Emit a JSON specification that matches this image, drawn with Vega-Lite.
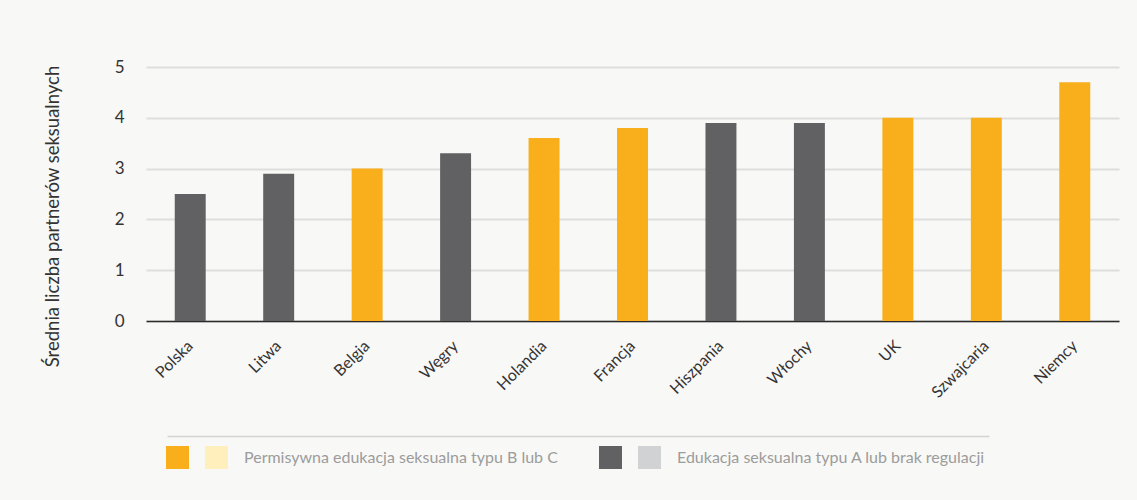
{
  "$schema": "https://vega.github.io/schema/vega-lite/v6.json",
  "width": 973,
  "height": 254,
  "autosize": {"type": "none"},
  "padding": {"left": 146, "top": 67, "right": 18, "bottom": 179},
  "background": "#f8f8f6",
  "config": {
    "font": "Lato",
    "view": {"stroke": null},
    "axis": {"labelFont": "Lato", "titleFont": "Lato"},
    "legend": {
      "title": null,
      "orient": "none",
      "legendY": 379,
      "direction": "horizontal",
      "symbolType": "square",
      "symbolSize": 529,
      "symbolStrokeWidth": 0,
      "labelOffset": 16,
      "columnPadding": -7,
      "labelFontSize": 16,
      "labelColor": "#9c9c9c",
      "labelLimit": 500
    }
  },
  "data": {
    "values": [
      {"kraj": "Polska", "srednia": 2.5, "typ": "A"},
      {"kraj": "Litwa", "srednia": 2.9, "typ": "A"},
      {"kraj": "Belgia", "srednia": 3.0, "typ": "B"},
      {"kraj": "Węgry", "srednia": 3.3, "typ": "A"},
      {"kraj": "Holandia", "srednia": 3.6, "typ": "B"},
      {"kraj": "Francja", "srednia": 3.8, "typ": "B"},
      {"kraj": "Hiszpania", "srednia": 3.9, "typ": "A"},
      {"kraj": "Włochy", "srednia": 3.9, "typ": "A"},
      {"kraj": "UK", "srednia": 4.0, "typ": "B"},
      {"kraj": "Szwajcaria", "srednia": 4.0, "typ": "B"},
      {"kraj": "Niemcy", "srednia": 4.7, "typ": "B"}
    ]
  },
  "encoding": {
    "y": {
      "field": "srednia",
      "type": "quantitative",
      "scale": {"domain": [0, 5]},
      "axis": {
        "title": "Średnia liczba partnerów seksualnych",
        "titleFontSize": 18.5,
        "titleFontWeight": "normal",
        "titleColor": "#333333",
        "titleX": -84,
        "titleY": 149,
        "titleAlign": "center",
        "values": [0, 1, 2, 3, 4, 5],
        "labelFontSize": 17,
        "labelColor": "#333333",
        "labelPadding": 22,
        "ticks": false,
        "domain": false,
        "gridColor": "#dedede",
        "gridWidth": 2
      }
    }
  },
  "layer": [
    {
      "transform": [{"filter": "datum.typ == 'B'"}],
      "mark": {"type": "bar"},
      "encoding": {
        "x": {
          "field": "kraj",
          "type": "nominal",
          "sort": null,
          "scale": {
            "domain": ["Polska", "Litwa", "Belgia", "Węgry", "Holandia", "Francja", "Hiszpania", "Włochy", "UK", "Szwajcaria", "Niemcy"],
            "paddingInner": 0.65,
            "paddingOuter": 0.325
          },
          "axis": {
            "title": null,
            "orient": "bottom",
            "labelAngle": -45,
            "labelAlign": "right",
            "labelBaseline": "middle",
            "labelPadding": 22,
            "labelFontSize": 16,
            "labelColor": "#333333",
            "ticks": false,
            "domainColor": "#2b2b2b",
            "domainWidth": 1.5
          }
        },
        "color": {
          "field": "typ",
          "type": "nominal",
          "scale": {"domain": ["B", "B2"], "range": ["#f9ae1b", "#feefbc"]},
          "legend": {
            "legendX": 20,
            "labelExpr": "datum.value == 'B2' ? 'Permisywna edukacja seksualna typu B lub C' : ''"
          }
        }
      }
    },
    {
      "transform": [{"filter": "datum.typ == 'A'"}],
      "mark": {"type": "bar"},
      "encoding": {
        "x": {
          "field": "kraj",
          "type": "nominal",
          "sort": null,
          "scale": {
            "domain": ["Polska", "Litwa", "Belgia", "Węgry", "Holandia", "Francja", "Hiszpania", "Włochy", "UK", "Szwajcaria", "Niemcy"],
            "paddingInner": 0.65,
            "paddingOuter": 0.325
          },
          "axis": null
        },
        "color": {
          "field": "typ",
          "type": "nominal",
          "scale": {"domain": ["A", "A2"], "range": ["#616163", "#d1d2d4"]},
          "legend": {
            "legendX": 453,
            "labelExpr": "datum.value == 'A2' ? 'Edukacja seksualna typu A lub brak regulacji' : ''"
          }
        }
      }
    },
    {
      "mark": {"type": "tick", "opacity": 0},
      "encoding": {
        "x": {
          "field": "srednia",
          "type": "quantitative",
          "scale": {"domain": [0, 5], "range": [21, 843]},
          "axis": {
            "title": null,
            "orient": "bottom",
            "offset": 115,
            "labels": false,
            "ticks": false,
            "grid": false,
            "domainColor": "#d3d3d3",
            "domainWidth": 1.5
          }
        }
      }
    }
  ],
  "resolve": {"scale": {"color": "independent", "x": "independent"}, "axis": {"x": "independent"}}
}
